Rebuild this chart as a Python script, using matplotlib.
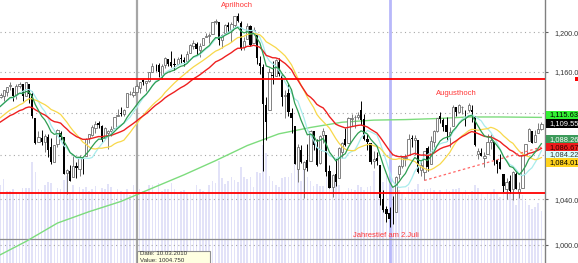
import numpy as np
import pandas as pd
import matplotlib
matplotlib.use("Agg")
import matplotlib.pyplot as plt
from matplotlib.patches import Rectangle
from matplotlib.ticker import FixedLocator, NullLocator

plt.rcParams['font.family'] = ['Liberation Sans', 'DejaVu Sans']

# S&P 500 daily candles, 04.01.2010 - 10.09.2010
holidays = ["2010-01-18", "2010-02-15", "2010-04-02", "2010-05-31", "2010-07-05", "2010-09-06"]
dates = pd.bdate_range("2010-01-04", "2010-09-10").drop(pd.to_datetime(holidays))

opens = [
    1116.56, 1132.66, 1135.71, 1136.27, 1140.52, 1145.96, 1143.81, 1137.31, 1145.68, 1147.72,
    1136.03, 1147.95, 1138.68, 1115.49, 1092.40, 1095.80, 1091.94, 1096.93, 1087.61,
    1073.89, 1090.05, 1100.67, 1097.25, 1064.12, 1065.51, 1060.06, 1069.68, 1067.10, 1075.95,
    1079.13, 1096.14, 1099.03, 1105.49, 1110.00, 1107.49, 1095.89, 1101.24, 1103.10,
    1105.36, 1117.01, 1119.36, 1119.12, 1125.12, 1138.40, 1137.56, 1140.22, 1143.96, 1151.71,
    1148.53, 1150.83, 1159.94, 1166.13, 1166.68, 1157.25, 1166.47, 1172.70, 1170.03, 1167.58,
    1167.71, 1173.75, 1171.75,
    1171.23, 1178.71, 1186.01, 1188.23, 1181.75, 1187.47, 1194.94, 1195.94, 1198.69, 1210.77,
    1210.17, 1192.06, 1199.04, 1207.16, 1202.52, 1207.87, 1217.07, 1209.92, 1184.59, 1193.30, 1206.77,
    1188.58, 1197.50, 1169.24, 1164.38, 1127.04, 1122.27, 1156.39, 1155.43, 1170.04, 1157.19,
    1136.52, 1138.78, 1119.57, 1107.34, 1067.26, 1084.78, 1067.42, 1075.51, 1074.27, 1102.59,
    1087.30, 1073.01, 1098.82, 1098.43, 1065.84, 1050.81, 1062.75, 1058.77, 1082.65, 1095.00,
    1091.21, 1114.02, 1115.98, 1116.16, 1122.79, 1113.90, 1095.57, 1090.93, 1075.10, 1077.50,
    1071.10, 1040.56,
    1031.10, 1027.65, 1028.09, 1028.54, 1062.92, 1070.50, 1077.23, 1080.65, 1095.61, 1094.46,
    1093.85, 1066.85, 1064.53, 1086.67, 1072.14, 1092.17, 1102.89, 1117.36, 1112.84, 1108.07, 1098.44,
    1107.53, 1125.34, 1121.06, 1125.78, 1122.07, 1122.80, 1122.92, 1116.89, 1081.48, 1082.22,
    1077.49, 1081.16, 1092.08, 1092.44, 1075.63, 1073.36, 1063.20, 1048.98, 1056.28, 1049.27,
    1062.90, 1046.88,
    1049.72, 1080.66, 1093.61, 1102.60, 1092.36, 1101.15, 1104.57,
]
highs = [
    1133.87, 1136.63, 1139.19, 1142.46, 1145.39, 1149.74, 1143.81, 1148.40, 1150.41, 1147.77,
    1150.45, 1147.95, 1141.58, 1115.49, 1102.97, 1103.69, 1099.51, 1100.22, 1096.45,
    1089.38, 1104.73, 1102.72, 1097.25, 1067.13, 1071.20, 1079.28, 1073.67, 1080.04, 1077.81,
    1095.67, 1099.51, 1108.24, 1112.42, 1112.29, 1108.58, 1106.42, 1103.50, 1107.24,
    1116.11, 1123.46, 1125.64, 1123.73, 1139.38, 1141.05, 1145.37, 1148.26, 1150.24, 1153.41,
    1150.98, 1160.28, 1169.20, 1167.77, 1169.20, 1167.82, 1174.72, 1173.04, 1180.69, 1173.93,
    1174.85, 1177.83, 1174.56,
    1181.43, 1187.73, 1191.80, 1189.60, 1188.55, 1194.66, 1199.20, 1199.04, 1210.65, 1213.92,
    1210.17, 1197.87, 1208.58, 1210.99, 1210.27, 1217.28, 1219.80, 1211.38, 1195.05, 1209.36, 1207.99,
    1205.13, 1197.50, 1175.95, 1167.58, 1135.13, 1163.85, 1170.48, 1172.87, 1173.57, 1157.19,
    1141.88, 1148.66, 1124.27, 1107.34, 1090.16, 1089.95, 1074.75, 1090.75, 1103.52, 1102.59,
    1094.77, 1098.56, 1105.67, 1098.43, 1071.36, 1063.15, 1077.74, 1087.85, 1092.25, 1105.91,
    1115.59, 1118.74, 1117.72, 1121.01, 1131.23, 1118.50, 1099.64, 1090.93, 1083.56, 1082.60,
    1071.10, 1048.08,
    1033.58, 1032.95, 1042.50, 1060.89, 1071.25, 1078.16, 1080.78, 1099.46, 1099.08, 1098.66,
    1093.85, 1074.70, 1083.94, 1088.96, 1097.50, 1103.73, 1115.01, 1120.95, 1114.66, 1115.90, 1106.44,
    1127.30, 1125.44, 1128.75, 1126.56, 1123.06, 1129.24, 1127.16, 1116.89, 1086.72, 1086.25,
    1082.62, 1100.14, 1099.77, 1092.44, 1075.63, 1081.58, 1063.20, 1059.38, 1061.45, 1065.21,
    1064.40, 1055.14,
    1081.30, 1090.10, 1105.10, 1102.60, 1103.26, 1110.27, 1110.88,
]
lows = [
    1116.56, 1129.66, 1133.95, 1131.32, 1136.22, 1142.02, 1131.77, 1133.18, 1143.80, 1131.39,
    1135.77, 1129.25, 1114.84, 1090.18, 1092.40, 1089.86, 1083.11, 1078.46, 1071.59,
    1073.89, 1087.96, 1093.97, 1062.78, 1044.50, 1056.51, 1060.06, 1059.34, 1060.59, 1062.97,
    1079.13, 1091.61, 1097.48, 1100.80, 1105.38, 1092.18, 1095.50, 1086.02, 1097.56,
    1105.36, 1116.51, 1116.58, 1116.66, 1125.12, 1136.77, 1134.90, 1140.09, 1138.99, 1146.97,
    1141.45, 1150.35, 1159.94, 1161.16, 1155.33, 1152.88, 1163.83, 1166.01, 1165.09, 1161.48,
    1167.71, 1168.92, 1165.77,
    1170.69, 1178.71, 1182.77, 1177.25, 1175.12, 1187.15, 1194.71, 1188.82, 1198.69, 1208.50,
    1186.77, 1183.68, 1199.04, 1198.85, 1190.19, 1205.10, 1211.07, 1181.62, 1181.81, 1193.30, 1186.32,
    1188.58, 1168.12, 1158.15, 1065.79, 1094.15, 1122.27, 1147.71, 1155.43, 1156.14, 1126.14,
    1114.96, 1117.20, 1100.66, 1071.58, 1055.90, 1072.70, 1040.78, 1065.59, 1074.27, 1084.78,
    1069.89, 1072.03, 1091.81, 1060.50, 1049.86, 1042.17, 1052.25, 1058.77, 1077.12, 1089.03,
    1091.21, 1107.13, 1105.87, 1113.93, 1108.24, 1094.18, 1085.31, 1071.60, 1067.89, 1071.45,
    1035.18, 1028.33,
    1019.50, 1015.93, 1018.35, 1028.54, 1058.24, 1068.10, 1070.45, 1080.65, 1087.68, 1080.53,
    1063.32, 1061.11, 1056.88, 1065.25, 1072.14, 1087.88, 1101.30, 1109.78, 1103.11, 1092.82, 1088.01,
    1107.53, 1116.76, 1119.46, 1118.81, 1107.17, 1120.91, 1111.58, 1088.55, 1076.69, 1079.00,
    1069.49, 1081.16, 1085.76, 1070.66, 1063.91, 1067.08, 1046.68, 1039.83, 1045.40, 1039.70,
    1048.79, 1040.88,
    1049.72, 1080.39, 1093.61, 1091.15, 1092.36, 1101.15, 1103.92,
]
closes = [
    1132.99, 1136.52, 1137.14, 1141.69, 1144.98, 1146.98, 1136.22, 1145.68, 1148.46, 1136.03,
    1150.23, 1138.04, 1116.48, 1091.76, 1096.78, 1092.17, 1097.50, 1084.53, 1073.87,
    1089.19, 1103.32, 1097.28, 1063.11, 1066.19, 1056.74, 1070.52, 1068.13, 1078.47, 1075.51,
    1094.87, 1099.51, 1106.75, 1109.17, 1108.01, 1094.60, 1105.24, 1102.93, 1104.49,
    1115.71, 1118.31, 1118.79, 1122.97, 1138.70, 1138.50, 1140.45, 1145.61, 1150.24, 1149.99,
    1150.51, 1159.46, 1166.21, 1165.83, 1159.90, 1165.81, 1174.17, 1167.72, 1165.73, 1166.59,
    1173.22, 1173.27, 1169.43,
    1178.10, 1187.44, 1189.44, 1182.45, 1186.44, 1194.37, 1196.48, 1197.30, 1210.65, 1211.67,
    1192.13, 1197.52, 1207.17, 1205.94, 1208.67, 1217.28, 1212.05, 1183.71, 1191.36, 1206.78, 1186.69,
    1202.26, 1173.60, 1165.90, 1128.15, 1110.88, 1159.73, 1155.79, 1171.67, 1157.44, 1135.68,
    1136.94, 1120.80, 1115.05, 1071.59, 1087.69, 1073.65, 1074.03, 1067.95, 1103.06, 1089.41,
    1070.71, 1098.38, 1102.83, 1064.88, 1050.47, 1062.00, 1055.69, 1086.84, 1091.60, 1089.63,
    1115.23, 1114.61, 1116.04, 1117.51, 1113.20, 1095.31, 1092.04, 1073.69, 1076.76, 1074.57,
    1041.24, 1030.71,
    1027.37, 1022.58, 1028.06, 1060.27, 1070.25, 1077.96, 1078.75, 1095.34, 1095.17, 1096.48,
    1064.88, 1071.25, 1083.48, 1069.59, 1093.67, 1102.66, 1115.01, 1113.84, 1106.13, 1101.53, 1101.60,
    1125.86, 1120.46, 1127.24, 1125.81, 1121.64, 1127.79, 1121.06, 1089.47, 1083.61, 1079.25,
    1079.38, 1092.54, 1094.16, 1075.63, 1071.69, 1067.36, 1051.87, 1055.33, 1047.22, 1064.59,
    1048.92, 1049.33,
    1080.29, 1090.10, 1104.51, 1091.84, 1098.87, 1104.18, 1109.55,
]
# Nov/Dec 2009 closes, only used to warm up the moving averages
closes_prev = [
    1042.88, 1045.41, 1046.50, 1066.63, 1069.30, 1093.08, 1093.01, 1098.51, 1087.24, 1093.48,
    1109.30, 1110.32, 1109.80, 1094.90, 1091.38, 1106.24, 1105.65, 1110.63, 1091.49, 1095.63,
    1108.86, 1109.24, 1099.92, 1105.98, 1103.25, 1091.94, 1095.95, 1102.35, 1106.41, 1114.11,
    1107.93, 1109.18, 1096.08, 1102.47, 1114.05, 1118.02, 1120.59, 1126.48, 1127.78, 1126.20,
    1126.42, 1115.10,
]
volume = [  # thousand contracts
    1730, 1910, 1960, 2100, 1810, 1790, 1860, 1770, 1720, 1870, 1870, 1880, 2520, 2280, 1860, 1830, 1940, 2030, 1990,
    1750, 1870, 1860, 2080, 2180, 1750, 1940, 1780, 1890, 1860, 1900, 1790, 1840, 1920, 1720, 1880, 1840, 1970, 1900,
    1730, 1840, 1810, 1770, 1840, 1700, 1950, 1920, 1860, 1810, 1770, 1950, 1950, 1770, 2010, 1790, 1860, 1860, 2010,
    1860, 1720, 1810, 1830,
    1750, 1720, 1750, 1940, 1840, 1790, 1750, 1940, 2050, 2010, 2560, 2120, 1970, 2050, 2140, 2080, 2030, 2390, 2160,
    2100, 2140,
    1900, 2270, 2250, 2950, 2740, 2170, 2060, 1950, 1900, 2120, 2140, 2160, 2250, 2520, 2520, 2060, 2340, 2160, 2050, 1920,
    1970, 1920, 1920, 2140, 2010, 2140, 2030, 1940, 1750, 1810, 1880, 1860, 1830, 1950, 1900, 1830, 1900, 1920, 2300,
    1720, 2120, 2030,
    2170, 1790, 1900, 1830, 1830, 1720, 1660, 1900, 1830, 1840, 1970, 1750, 1840, 1840, 1880, 1830, 1770, 1830, 1730,
    1840, 1790,
    1840, 1840, 1880, 1720, 1830, 1700, 1790, 1950, 1880, 1730, 1660, 1770, 1750, 1840, 1750, 1660, 1840, 1790, 1750,
    1730, 1450, 1730,
    1700, 1560, 1450, 1350, 1400, 1500, 1300,
]
# 200-day average, every 10 sessions
ma200_idx = [0, 10, 20, 30, 40, 50, 60, 70, 80, 90, 100, 110, 120, 130, 140, 150, 160, 173]
ma200_val = [989, 1003, 1019, 1029, 1038, 1050, 1062, 1075, 1089, 1100, 1106, 1111, 1113,
             1113.5, 1114.5, 1116, 1116, 1115.6]

levels = [1000, 1040, 1080, 1120, 1160, 1200]
support, resistance = 1046.0, 1152.5
trend_idx, trend_val = [136, 173], [1056.9, 1087.5]
notes = [("Aprilhoch", 76.9, 1228), ("Augusthoch", 146.2, 1139), ("Jahrestief am 2.Juli", 123.8, 1008.6)]
value_tags = [("1,115.63", 115, "#33f033", "black"), ("1,109.55", 123.3, "black", "white"),
              ("1,088.26", 139.3, "#3c9a5a", "white"), ("1,086.67", 147.3, "#ee1c1c", "#300000"),
              ("1,084.22", 155, "#dcffff", "#333333"), ("1,084.01", 162.7, "#ffd21e", "black")]

o, h, l, c = map(np.array, (opens, highs, lows, closes))
n = len(c)
assert n == len(dates)
idx = np.arange(n)
allc = pd.Series(np.concatenate([closes_prev, closes]))
sma10 = allc.rolling(10).mean().values[-n:]
sma20 = allc.rolling(20).mean().values[-n:]
ema10 = allc.ewm(span=10, adjust=False).mean().values[-n:]
ema30 = allc.ewm(span=30, adjust=False).mean().values[-n:]

W, H = 578, 263
fig = plt.figure(figsize=(W / 100, H / 100), dpi=100)
rect = [0, 0, 545 / W, 1]
xlim = (1.83, 174.14)

axv = fig.add_axes(rect)
axv.bar(idx, volume, width=0.5, color="#e2e2f8", zorder=1)
axv.set_xlim(*xlim)
axv.set_ylim(0, 6575)
axv.axis("off")

ax = fig.add_axes(rect)
ax.patch.set_visible(False)
ax.set_yscale("log")
ax.set_xlim(*xlim)
ax.set_ylim(984.7, 1233.7)

for lv in levels:
    ax.axhline(lv, color="#a8a8a8", ls=(0, (1, 3)), lw=0.8, zorder=1)

ax.axvline(dates.get_loc(pd.Timestamp("2010-07-02")), color="#b8b8fa", lw=2, zorder=1.5)
ax.axvline(dates.get_loc(pd.Timestamp("2010-03-10")), color="#a6a6a6", lw=1.6, zorder=1.5)
ax.axhline(1004.75, color="#8c8c8c", lw=0.9, zorder=1.5)

ax.plot(ma200_idx, ma200_val, color="#7ddc7d", lw=1.0, zorder=2)

up = c >= o
dn = ~up
ax.vlines(idx[up], l[up], h[up], color="#7a7a7a", lw=0.7, zorder=3)
ax.vlines(idx[dn], l[dn], h[dn], color="black", lw=0.7, zorder=3)
ax.bar(idx[up], c[up] - o[up], bottom=o[up], width=0.72, facecolor="white",
       edgecolor="#6e6e6e", lw=0.6, zorder=4)
ax.bar(idx[dn], o[dn] - c[dn], bottom=c[dn], width=0.72, color="black", zorder=4)

ax.plot(idx, sma10, color="#a8ecec", lw=0.9, zorder=5)
ax.plot(idx, sma20, color="#f8d84a", lw=0.9, zorder=5)
ax.plot(idx, ema30, color="#ee2020", lw=1.0, zorder=5)
ax.plot(idx, ema10, color="#2e9e52", lw=0.9, zorder=5)

ax.axhline(resistance, color="#ff0000", lw=1.3, zorder=6)
ax.axhline(support, color="#ff0000", lw=1.3, zorder=6)
ax.plot(trend_idx, trend_val, color="#ff6666", ls=(0, (2, 2)), lw=0.9, zorder=6)

for txt, x, y in notes:
    ax.text(x, y, txt, color="#ff3838", fontsize=5.5, ha="center", va="center", zorder=7)

# 1,120.0 and 1,080.0 sit behind the price tags
ax.yaxis.tick_right()
ax.yaxis.set_major_locator(FixedLocator(levels))
ax.yaxis.set_minor_locator(NullLocator())
ax.set_yticklabels(["" if v in (1080, 1120) else f"{v:,.1f}" for v in levels])
ax.tick_params(axis="y", which="major", length=2.5, pad=4, labelsize=5.2,
               colors="#606060", labelcolor="#333333")
ax.set_xticks([])
for side in ("left", "top", "bottom"):
    ax.spines[side].set_visible(False)
ax.spines["right"].set_color("#808080")
ax.spines["right"].set_linewidth(1.0)

# price tags on the right scale
for txt, yc, bg, fg in value_tags:
    fig.patches.append(Rectangle((546 / W, (H - yc - 4.4) / H), 40 / W, 8.8 / H,
                                 transform=fig.transFigure, facecolor=bg, edgecolor="none", zorder=5))
    fig.text(549 / W, 1 - yc / H, txt, color=fg, fontsize=5.4, va="center", ha="left", zorder=6)
fig.patches.append(Rectangle((575 / W, (H - 81) / H), 3 / W, 4 / H, transform=fig.transFigure,
                             facecolor="#ff0000", edgecolor="none", zorder=5))

# crosshair tooltip
fig.patches.append(Rectangle((137 / W, -0.01), 73 / W, (H - 250.5) / H + 0.01, transform=fig.transFigure,
                             facecolor="#ffffe1", edgecolor="#909090", lw=0.8, zorder=5))
fig.text(140 / W, 1 - 251.3 / H, "Date: 10.03.2010", fontsize=4.4, color="#333333", va="top", zorder=6)
fig.text(140 / W, 1 - 262.6 / H, "Value: 1004.750", fontsize=4.4, color="#333333", va="bottom", zorder=6)

fig.savefig("out.png", dpi=100)
